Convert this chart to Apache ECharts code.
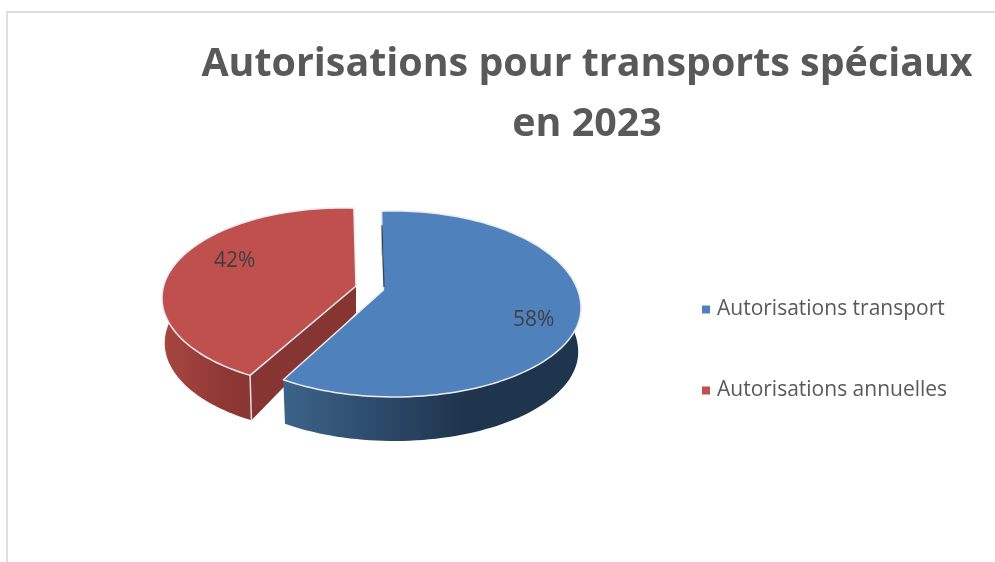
<!DOCTYPE html>
<html>
<head>
<meta charset="utf-8">
<style>html,body{margin:0;padding:0;background:#fff}#c{width:995px;height:562px}</style>
<script src="https://cdn.jsdelivr.net/npm/echarts@6/dist/echarts.min.js"></script>
</head>
<body>
<div id="c"></div>
<script>
var titleLines = ['Autorisations pour transports spéciaux', 'en 2023'];
var categories = ['Autorisations transport', 'Autorisations annuelles'];
var values = [58, 42];
var colors = ['#4f81bd', '#c0504d'];

var FONT = '"Open Sans", sans-serif';
var total = values.reduce(function (a, b) { return a + b; }, 0);
var START = -0.7;

// Perspective layout of each exploded slice: rim shape, apex, thickness, sides
var looks = [
  { c: [394, 308], rx: 187, ryTop: 97, ryBottom: 89, rayY: 93, apex: [383.5, 290], stretch: 1.04, depth: 44, apexDepth: 27,
    side: ['#3c6388', '#2d4b6c', '#1f344d'], sideX: [284, 465],
    wall: null, sliver: '#35465c', labelR: 0.78, labelTurn: 9, z: 3 },
  { c: [342, 298], rx: 180, ryTop: 90, ryBottom: 90, rayY: 90, apex: [356, 286], stretch: 1.11, depth: 45, apexDepth: 27,
    side: ['#a5463f', '#9c3f3c', '#8e3835', '#8a3633'], sideX: [165, 252],
    wall: '#863533', sliver: null, labelR: 0.72, labelTurn: 10.5, z: 2 }
];

function hit(look, dir, ry) {
  var px = (look.apex[0] - look.c[0]) / look.rx, py = (look.apex[1] - look.c[1]) / ry;
  var dx = dir[0] / look.rx, dy = dir[1] / ry;
  var dd = dx * dx + dy * dy, b = px * dx + py * dy;
  var s = (-b + Math.sqrt(b * b - dd * (px * px + py * py - 1))) / dd;
  return [look.apex[0] + s * dir[0], look.apex[1] + s * dir[1]];
}
function rimPoint(look, deg) {
  var a = deg * Math.PI / 180;
  var dir = [Math.sin(a) * look.stretch * look.rx, -Math.cos(a) * look.rayY];
  var up = hit(look, dir, look.ryTop);
  return up[1] <= look.c[1] ? up : hit(look, dir, look.ryBottom);
}
function lower(look, pt) {
  return [look.c[0] + (pt[0] - look.c[0]) * 0.985, pt[1] + look.depth];
}

function sliceRenderer(index) {
  return function (params, api) {
    var before = 0;
    for (var i = 0; i < index; i++) before += values[i];
    var value = api.value(0);
    var look = looks[index];
    var a0 = START + before / total * 360;
    var a1 = a0 + value / total * 360;
    var arc = [], under = [];
    for (var k = 0; k <= 120; k++) {
      var pt = rimPoint(look, a0 + (a1 - a0) * k / 120);
      arc.push(pt);
      under.push(lower(look, pt));
    }
    var children = [];
    var stops = look.side.map(function (col, n) {
      return { offset: n / (look.side.length - 1), color: col };
    });
    children.push({
      type: 'polygon',
      shape: { points: arc.concat(under.slice().reverse()) },
      style: { fill: { type: 'linear', x: look.sideX[0], y: 0, x2: look.sideX[1], y2: 0, global: true, colorStops: stops }, stroke: null }
    });
    if (look.wall) {
      // cut face turned towards the viewer, at the front end of the slice
      var rim = arc[0];
      children.push({
        type: 'polygon',
        shape: { points: [look.apex, rim, under[0], [look.apex[0], look.apex[1] + look.apexDepth]] },
        style: { fill: look.wall, stroke: null }
      });
      children.push({
        type: 'line',
        shape: { x1: rim[0], y1: rim[1], x2: under[0][0], y2: under[0][1] },
        style: { stroke: '#e6dcdc', lineWidth: 1.5 }
      });
    }
    children.push({
      type: 'polygon',
      shape: { points: [look.apex].concat(arc) },
      style: { fill: api.visual('color'), stroke: '#ececf0', lineWidth: 1.5, lineJoin: 'round' }
    });
    if (look.sliver) {
      children.push({
        type: 'line',
        shape: { x1: arc[0][0] + 0.5, y1: arc[0][1] + 14, x2: look.apex[0] + 0.5, y2: look.apex[1] - 3 },
        style: { stroke: look.sliver, lineWidth: 1.3 }
      });
    }
    var mid = (a0 + a1) / 2 + look.labelTurn;
    var tip = rimPoint(look, mid);
    children.push({
      type: 'text',
      style: {
        x: look.apex[0] + (tip[0] - look.apex[0]) * look.labelR,
        y: look.apex[1] + (tip[1] - look.apex[1]) * look.labelR,
        text: Math.round(value / total * 100) + '%',
        font: '400 21px ' + FONT,
        fill: '#404040',
        align: 'center',
        verticalAlign: 'middle'
      },
      z2: 10
    });
    return { type: 'group', children: children };
  };
}

var chart = echarts.init(document.getElementById('c'), null, { renderer: 'canvas' });
chart.setOption({
  animation: false,
  backgroundColor: '#ffffff',
  title: {
    text: titleLines.join('\n'),
    left: 582,
    top: 30,
    textAlign: 'center',
    textStyle: { fontFamily: FONT, fontWeight: 'bold', fontSize: 39.4, lineHeight: 60, color: '#595959' }
  },
  legend: {
    orient: 'vertical',
    left: 702,
    top: 299,
    padding: 0,
    itemWidth: 8,
    itemHeight: 8,
    itemGap: 60,
    icon: 'rect',
    data: categories,
    textStyle: { fontFamily: FONT, fontSize: 21, color: '#595959', padding: [0, 0, 0, 2] }
  },
  graphic: [
    { type: 'line', shape: { x1: 6, y1: 12, x2: 995, y2: 12 }, style: { stroke: '#dedede', lineWidth: 2 } },
    { type: 'line', shape: { x1: 7, y1: 12, x2: 7, y2: 562 }, style: { stroke: '#dedede', lineWidth: 2 } }
  ],
  series: categories.map(function (name, i) {
    return {
      type: 'custom',
      name: name,
      coordinateSystem: 'none',
      z: looks[i].z,
      itemStyle: { color: colors[i] },
      renderItem: sliceRenderer(i),
      data: [[values[i]]],
      silent: true
    };
  })
});
</script>
</body>
</html>
